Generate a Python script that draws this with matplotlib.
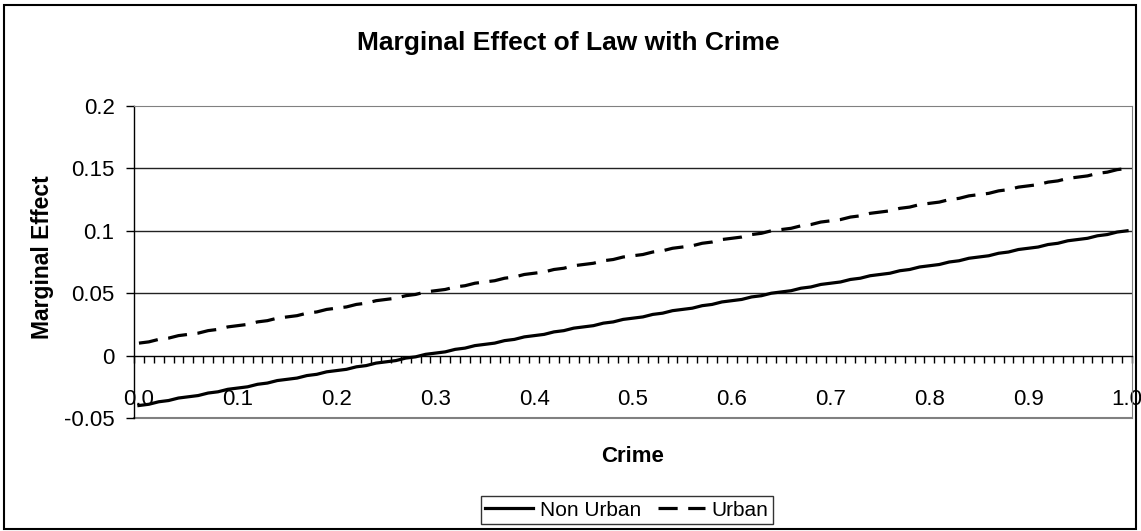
import numpy as np
import matplotlib.pyplot as plt
from matplotlib.patches import Rectangle

plt.rcParams['font.family'] = ['Liberation Sans', 'DejaVu Sans']

# Crime categories 0.00 .. 1.00 (step 0.01), labelled every 0.1
tick_labels = ['0.0', '0.1', '0.2', '0.3', '0.4', '0.5',
               '0.6', '0.7', '0.8', '0.9', '1.0']

non_urban = [-0.040, -0.039, -0.037, -0.036, -0.034, -0.033, -0.032, -0.030, -0.029, -0.027,
             -0.026, -0.025, -0.023, -0.022, -0.020, -0.019, -0.018, -0.016, -0.015, -0.013,
             -0.012, -0.011, -0.009, -0.008, -0.006, -0.005, -0.004, -0.002, -0.001, 0.001,
             0.002, 0.003, 0.005, 0.006, 0.008, 0.009, 0.010, 0.012, 0.013, 0.015,
             0.016, 0.017, 0.019, 0.020, 0.022, 0.023, 0.024, 0.026, 0.027, 0.029,
             0.030, 0.031, 0.033, 0.034, 0.036, 0.037, 0.038, 0.040, 0.041, 0.043,
             0.044, 0.045, 0.047, 0.048, 0.050, 0.051, 0.052, 0.054, 0.055, 0.057,
             0.058, 0.059, 0.061, 0.062, 0.064, 0.065, 0.066, 0.068, 0.069, 0.071,
             0.072, 0.073, 0.075, 0.076, 0.078, 0.079, 0.080, 0.082, 0.083, 0.085,
             0.086, 0.087, 0.089, 0.090, 0.092, 0.093, 0.094, 0.096, 0.097, 0.099,
             0.100]

urban = [0.010, 0.011, 0.013, 0.014, 0.016, 0.017, 0.018, 0.020, 0.021, 0.023,
         0.024, 0.025, 0.027, 0.028, 0.030, 0.031, 0.032, 0.034, 0.035, 0.037,
         0.038, 0.039, 0.041, 0.042, 0.044, 0.045, 0.046, 0.048, 0.049, 0.051,
         0.052, 0.053, 0.055, 0.056, 0.058, 0.059, 0.060, 0.062, 0.063, 0.065,
         0.066, 0.067, 0.069, 0.070, 0.072, 0.073, 0.074, 0.076, 0.077, 0.079,
         0.080, 0.081, 0.083, 0.084, 0.086, 0.087, 0.088, 0.090, 0.091, 0.093,
         0.094, 0.095, 0.097, 0.098, 0.100, 0.101, 0.102, 0.104, 0.105, 0.107,
         0.108, 0.109, 0.111, 0.112, 0.114, 0.115, 0.116, 0.118, 0.119, 0.121,
         0.122, 0.123, 0.125, 0.126, 0.128, 0.129, 0.130, 0.132, 0.133, 0.135,
         0.136, 0.137, 0.139, 0.140, 0.142, 0.143, 0.144, 0.146, 0.147, 0.149,
         0.150]

yticks = [-0.05, 0, 0.05, 0.1, 0.15, 0.2]
ytick_labels = ['-0.05', '0', '0.05', '0.1', '0.15', '0.2']

n = len(non_urban)
pos = np.arange(n)

fig = plt.figure(figsize=(11.41, 5.31), dpi=100)
fig.patches.append(Rectangle((0.0035, 0.004), 0.9925, 0.987, transform=fig.transFigure,
                             fill=False, edgecolor='black', linewidth=1.5))

ax = fig.add_axes([134 / 1141, 1 - 418 / 531, 998 / 1141, 312 / 531])

# gridlines
for yv in [0.05, 0.1, 0.15]:
    ax.axhline(yv, color='#222222', linewidth=1.0, zorder=1)

ax.plot(pos, non_urban, color='black', linewidth=2.3, label='Non Urban', zorder=3)
ax.plot(pos, urban, color='black', linewidth=2.3, linestyle=(0, (6, 3.3)),
        label='Urban', zorder=3)

ax.set_xlim(-0.5, n - 0.5)
ax.set_ylim(-0.05, 0.2)

# spines: x axis sits at zero
ax.spines['bottom'].set_position(('data', 0))
ax.spines['bottom'].set_color('black')
ax.spines['bottom'].set_linewidth(1.0)
ax.spines['left'].set_color('black')
ax.spines['left'].set_linewidth(1.0)
ax.spines['top'].set_color('#808080')
ax.spines['right'].set_color('#808080')
ax.axhline(-0.05, color='#808080', linewidth=1.5, zorder=1, clip_on=False)

ax.set_yticks(yticks)
ax.set_yticklabels(ytick_labels, fontsize=16)
ax.tick_params(axis='y', direction='out', length=6, width=1, pad=8)

ax.set_xticks(pos[::10])
ax.set_xticklabels(tick_labels, fontsize=16)
ax.set_xticks(np.arange(n + 1) - 0.5, minor=True)
ax.tick_params(axis='x', which='major', length=0, pad=24)
ax.tick_params(axis='x', which='minor', direction='out', length=5, width=1)

fig.text(0.498, 1 - 43 / 531, 'Marginal Effect of Law with Crime', ha='center', va='center',
         fontsize=19, fontweight='bold')
fig.text(43 / 1141, 1 - 257 / 531, 'Marginal Effect', ha='center', va='center',
         rotation=90, fontsize=16.5, fontweight='bold')
fig.text(633 / 1141, 1 - 456 / 531, 'Crime', ha='center', va='center',
         fontsize=16, fontweight='bold')

leg = ax.legend(loc='center', bbox_to_anchor=(627 / 1141, 1 - 510 / 531),
                bbox_transform=fig.transFigure, ncol=2, fontsize=15,
                frameon=True, fancybox=False, handlelength=2.3,
                columnspacing=0.8, handletextpad=0.3, borderpad=0.2)
leg.get_frame().set_edgecolor('black')
leg.get_frame().set_linewidth(1.0)

fig.savefig('out.png', dpi=100)
